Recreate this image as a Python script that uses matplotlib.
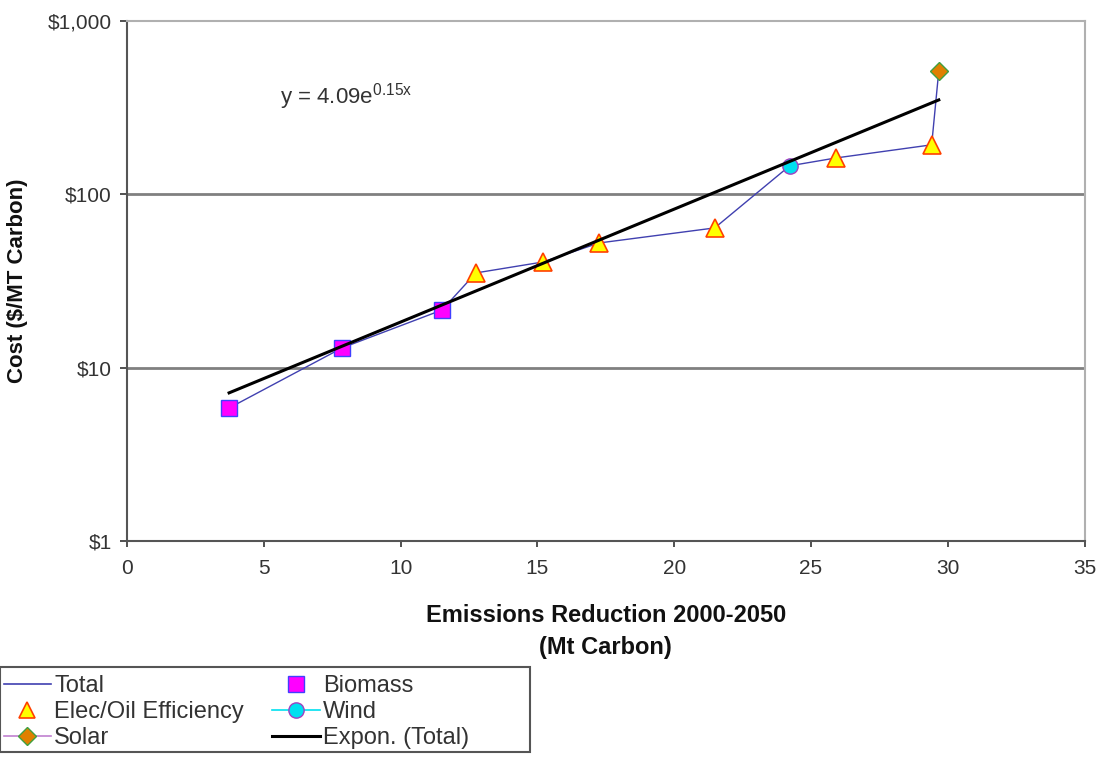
import matplotlib.pyplot as plt
import numpy as np
from matplotlib.lines import Line2D
from matplotlib.patches import Rectangle
from matplotlib.ticker import FixedLocator, NullLocator

plt.rcParams['font.family'] = ['Liberation Sans', 'DejaVu Sans']
plt.rcParams['mathtext.fontset'] = 'custom'
plt.rcParams['mathtext.rm'] = 'Liberation Sans'
plt.rcParams['mathtext.it'] = 'Liberation Sans'

# supply curve points (Mt carbon, $/MT carbon)
bio_x = [3.73, 7.86, 11.51]
bio_y = [5.85, 13.0, 21.5]
eff_x = [12.75, 15.2, 17.25, 21.48, 25.9, 29.41]
eff_y = [35.2, 40.7, 52.4, 64.0, 162.0, 193.0]
wind_x = [24.22]
wind_y = [146.0]
solar_x = [29.67]
solar_y = [515.0]

# exponential trend on the total
fit_a = 4.09
fit_b = 0.15

tot_x = np.array(bio_x + eff_x + wind_x + solar_x)
tot_y = np.array(bio_y + eff_y + wind_y + solar_y)
order = np.argsort(tot_x, kind='stable')
tot_x = tot_x[order]
tot_y = tot_y[order]

fig = plt.figure(figsize=(11, 7.57), dpi=100)
ax = fig.add_axes([0.1155, 0.2853, 0.8705, 0.687])

ax.plot(tot_x, tot_y, color='#4040b0', lw=1.0, zorder=2)
xf = np.linspace(tot_x.min(), tot_x.max(), 100)
ax.plot(xf, fit_a * np.exp(fit_b * xf), color='black', lw=2.2, zorder=4)

ax.plot(bio_x, bio_y, ls='none', marker='s', ms=12, mfc='#ff00ff', mec='#4040ff', mew=1.0, zorder=3)
ax.plot(eff_x, eff_y, ls='none', marker='^', ms=13, mfc='#ffff00', mec='#ff4000', mew=1.2, zorder=3)
ax.plot(wind_x, wind_y, ls='none', marker='o', ms=11, mfc='#00e0f0', mec='#a040c0', mew=1.0, zorder=3)
ax.plot(solar_x, solar_y, ls='none', marker='D', ms=9, mfc='#e08000', mec='#40a040', mew=1.0, zorder=3)

ax.set_yscale('log')
ax.set_xlim(0, 35)
ax.set_ylim(1, 1000)
ax.set_xticks(range(0, 36, 5))
ax.yaxis.set_major_locator(FixedLocator([1, 10, 100, 1000]))
ax.yaxis.set_minor_locator(NullLocator())
ax.set_yticklabels(['$1', '$10', '$100', '$1,000'])

for yv in [10, 100]:
    ax.axhline(yv, color='#808080', lw=2.0, zorder=1)

for s in ['left', 'bottom']:
    ax.spines[s].set_color('#555555')
    ax.spines[s].set_linewidth(1.5)
for s in ['top', 'right']:
    ax.spines[s].set_color('#b0b0b0')
    ax.spines[s].set_linewidth(1.5)

ax.tick_params(axis='both', labelsize=15, colors='#333333', length=4, width=1.2, pad=9)
ax.tick_params(axis='y', length=5, pad=6)

ax.set_xlabel('Emissions Reduction 2000-2050\n(Mt Carbon)', fontsize=17, fontweight='bold',
              labelpad=19, linespacing=1.5, color='#111111')
ax.set_ylabel('Cost ($/MT Carbon)', fontsize=16, fontweight='bold', labelpad=14, color='#111111')

ax.text(5.59, 365, r'y = 4.09e$^{\mathrm{0.15x}}$', fontsize=16, color='#333333', va='center')

handles = [
    Line2D([], [], color='#4040b0', lw=1.2),
    Line2D([], [], ls='none', marker='^', ms=12, mfc='#ffff00', mec='#ff4000', mew=1.2),
    Line2D([], [], color='#c080d0', lw=1.2, marker='D', ms=9, mfc='#e08000', mec='#40a040'),
    Line2D([], [], ls='none', marker='s', ms=12, mfc='#ff00ff', mec='#4040ff'),
    Line2D([], [], color='#00e0f0', lw=1.2, marker='o', ms=11, mfc='#00e0f0', mec='#a040c0'),
    Line2D([], [], color='black', lw=2.2),
]
labels = ['Total', 'Elec/Oil Efficiency', 'Solar', 'Biomass', 'Wind', 'Expon. (Total)']

# legend box is wider than its entries
fig.patches.append(Rectangle((0.0, 0.0066), 0.482, 0.1125, transform=fig.transFigure,
                             fill=False, edgecolor='#555555', lw=1.5))
leg = fig.legend(handles, labels, ncol=2, loc='lower left', bbox_to_anchor=(0.0, 0.006),
                 fontsize=17, frameon=False,
                 handlelength=2.0, handletextpad=0.15, labelspacing=0.17, columnspacing=1.2,
                 borderpad=0.15, borderaxespad=0.0)
for t in leg.get_texts():
    t.set_color('#333333')

fig.savefig('out.png', dpi=100)
